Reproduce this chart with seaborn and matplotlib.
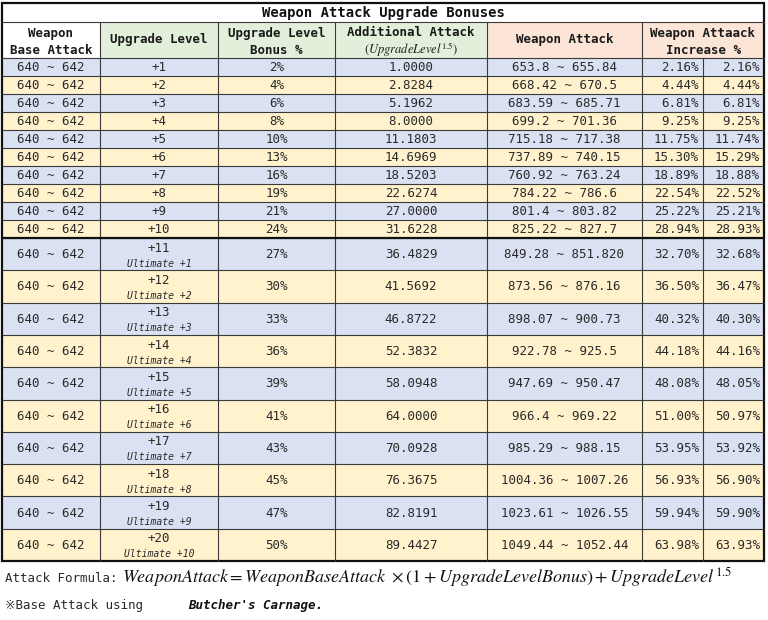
import matplotlib
matplotlib.use("Agg")
import numpy as np
import pandas as pd
import seaborn as sns
import matplotlib.pyplot as plt
from matplotlib.patches import Rectangle

# ---------------- data ----------------
title = "Weapon Attack Upgrade Bonuses"
base_low = 640
base_high = 642
levels = [1, 2, 3, 4, 5, 6, 7, 8, 9, 10, 11, 12, 13, 14, 15, 16, 17, 18, 19, 20]
ultimate = [0] * 10 + [1, 2, 3, 4, 5, 6, 7, 8, 9, 10]
bonus_pct = [2, 4, 6, 8, 10, 13, 16, 19, 21, 24, 27, 30, 33, 36, 39, 41, 43, 45, 47, 50]
additional = ["1.0000", "2.8284", "5.1962", "8.0000", "11.1803", "14.6969", "18.5203",
              "22.6274", "27.0000", "31.6228", "36.4829", "41.5692", "46.8722", "52.3832",
              "58.0948", "64.0000", "70.0928", "76.3675", "82.8191", "89.4427"]
atk_low = ["653.8", "668.42", "683.59", "699.2", "715.18", "737.89", "760.92", "784.22",
           "801.4", "825.22", "849.28", "873.56", "898.07", "922.78", "947.69", "966.4",
           "985.29", "1004.36", "1023.61", "1049.44"]
atk_high = ["655.84", "670.5", "685.71", "701.36", "717.38", "740.15", "763.24", "786.6",
            "803.82", "827.7", "851.820", "876.16", "900.73", "925.5", "950.47", "969.22",
            "988.15", "1007.26", "1026.55", "1052.44"]
inc_low = ["2.16", "4.44", "6.81", "9.25", "11.75", "15.30", "18.89", "22.54", "25.22",
           "28.94", "32.70", "36.50", "40.32", "44.18", "48.08", "51.00", "53.95", "56.93",
           "59.94", "63.98"]
inc_high = ["2.16", "4.44", "6.81", "9.25", "11.74", "15.29", "18.88", "22.52", "25.21",
            "28.93", "32.68", "36.47", "40.30", "44.16", "48.05", "50.97", "53.92", "56.90",
            "59.90", "63.93"]

df = pd.DataFrame({
    "level": levels, "ultimate": ultimate, "bonus": bonus_pct, "add": additional,
    "atk_low": atk_low, "atk_high": atk_high, "inc_low": inc_low, "inc_high": inc_high,
})

# ---------------- style ----------------
sns.set_theme(style="white")
MONO = ["DejaVu Sans Mono", "DejaVu Sans", "Noto Sans CJK JP"]
plt.rcParams["font.family"] = MONO
plt.rcParams["mathtext.fontset"] = "stix"

BLUE = "#D9E1F2"
YELLOW = "#FFF2CC"
GREEN = "#E2EFDA"
PINK = "#FCE4D6"
TXT = "#2a2a2a"
GRID = "#3a3a3a"

fig = plt.figure(figsize=(7.68, 6.2), dpi=100)
ax = fig.add_axes([0, 0, 1, 1])
ax.set_xlim(0, 768)
ax.set_ylim(620, 0)
ax.axis("off")

xs = [2, 100, 218, 335, 487, 642, 703, 764]
y_title = 3
y_head = 22
y_data = 58
short_h = 18
tall_h = 32.3
row_tops = []
y = y_data
for u in ultimate:
    h = short_h if u == 0 else tall_h
    row_tops.append((y, h))
    y += h
y_end = y

FS = 9

# title row
ax.add_patch(Rectangle((xs[0], y_title), xs[-1] - xs[0], y_head - y_title, fc="white", ec="none"))
ax.text((xs[0] + xs[-1]) / 2, (y_title + y_head) / 2 + 0.5, title, ha="center", va="center",
        fontsize=10, fontweight="bold", color="#111111")

# header row
head_cols = [("white", 0, 1), (GREEN, 1, 2), (GREEN, 2, 3), (GREEN, 3, 4), (PINK, 4, 5), (PINK, 5, 7)]
for c, a, b in head_cols:
    ax.add_patch(Rectangle((xs[a], y_head), xs[b] - xs[a], y_data - y_head, fc=c, ec="none"))
hy1, hy2, hym = y_head + 11, y_head + 28, (y_head + y_data) / 2


def hcent(a, b):
    return (xs[a] + xs[b]) / 2


hk = dict(ha="center", va="center", fontsize=FS, fontweight="bold", color="#1a1a1a")
ax.text(hcent(0, 1), hy1, "Weapon", **hk)
ax.text(hcent(0, 1), hy2, "Base Attack", **hk)
ax.text(hcent(1, 2), hym, "Upgrade Level", **hk)
ax.text(hcent(2, 3), hy1, "Upgrade Level", **hk)
ax.text(hcent(2, 3), hy2, "Bonus %", **hk)
ax.text(hcent(3, 4), hy1, "Additional Attack", **hk)
ax.text(hcent(3, 4), hy2, r"$(UpgradeLevel^{1.5})$", ha="center", va="center", fontsize=9, color="#1a1a1a")
ax.text(hcent(4, 5), hym, "Weapon Attack", **hk)
ax.text(hcent(5, 7), hy1, "Weapon Attaack", **hk)
ax.text(hcent(5, 7), hy2, "Increase %", **hk)

# data rows
for i, r in df.iterrows():
    top, h = row_tops[i]
    fc = BLUE if i % 2 == 0 else YELLOW
    ax.add_patch(Rectangle((xs[0], top), xs[-1] - xs[0], h, fc=fc, ec="none"))
    cy = top + h / 2 + 0.5
    k = dict(va="center", fontsize=FS, color=TXT)
    ax.text(hcent(0, 1), cy, f"{base_low} ~ {base_high}", ha="center", **k)
    if r["ultimate"] == 0:
        ax.text(hcent(1, 2), cy, f"+{r['level']}", ha="center", **k)
    else:
        ax.text(hcent(1, 2), cy - 6.5, f"+{r['level']}", ha="center", **k)
        ax.text(hcent(1, 2), cy + 9, f"Ultimate +{int(r['ultimate'])}", ha="center", va="center",
                fontsize=7, style="italic", color=TXT)
    ax.text(hcent(2, 3), cy, f"{r['bonus']}%", ha="center", **k)
    ax.text(hcent(3, 4), cy, r["add"], ha="center", **k)
    ax.text(hcent(4, 5), cy, f"{r['atk_low']} ~ {r['atk_high']}", ha="center", **k)
    ax.text(xs[6] - 4, cy, f"{r['inc_low']}%", ha="right", **k)
    ax.text(xs[7] - 4, cy, f"{r['inc_high']}%", ha="right", **k)

# grid lines
lw = 0.8
for top, h in row_tops[1:]:
    ax.plot([xs[0], xs[-1]], [top, top], color=GRID, lw=lw, solid_capstyle="butt")
ax.plot([xs[0], xs[-1]], [y_head, y_head], color=GRID, lw=lw)
ax.plot([xs[0], xs[-1]], [y_data, y_data], color=GRID, lw=lw)
for j, x in enumerate(xs[1:-1], start=1):
    y0 = y_data if j == 6 else y_head
    ax.plot([x, x], [y0, y_end], color=GRID, lw=lw)
# thick separator after +10
ax.plot([xs[0], xs[-1]], [row_tops[10][0], row_tops[10][0]], color="#111111", lw=1.6)
# outer border
ax.add_patch(Rectangle((xs[0], y_title), xs[-1] - xs[0], y_end - y_title, fc="none",
                       ec="#111111", lw=1.6))

# footer
ax.text(5, 579, "Attack Formula: ", ha="left", va="center", fontsize=9, color=TXT)
ax.text(122, 577,
        r"$WeaponAttack = WeaponBaseAttack\ \times(1 + UpgradeLevelBonus) + UpgradeLevel^{1.5}$",
        ha="left", va="center", fontsize=13, color="#111111")
ax.text(5, 606, "※Base Attack using", ha="left", va="center", fontsize=9, color=TXT,
        family=MONO)
ax.text(188, 606, "Butcher's Carnage.", ha="left", va="center", fontsize=9,
        fontweight="bold", style="italic", color="#111111")

fig.savefig("out.png", dpi=100)
